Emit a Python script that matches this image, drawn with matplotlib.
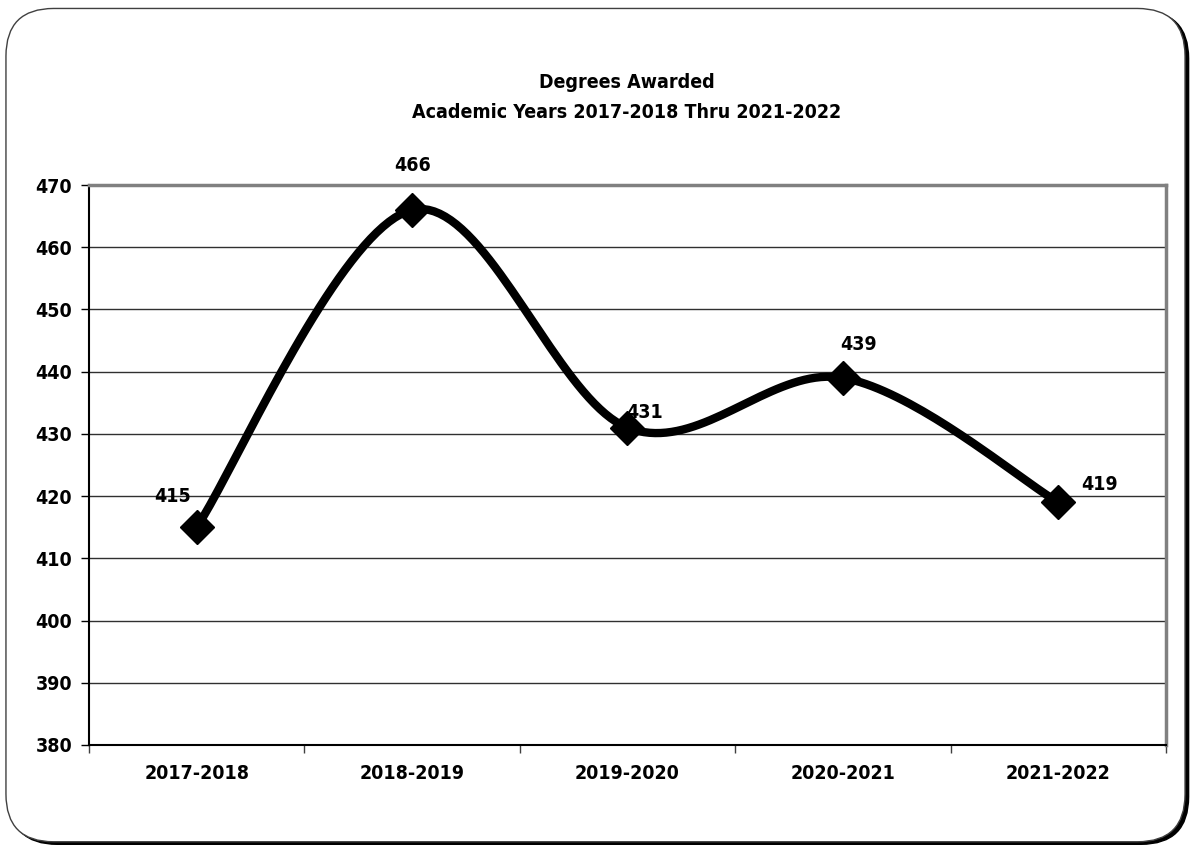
import numpy as np
import matplotlib
matplotlib.use('Agg')
import matplotlib.pyplot as plt
from matplotlib.patches import FancyBboxPatch

plt.rcParams['font.family'] = ['DejaVu Sans']
plt.rcParams['font.stretch'] = 'condensed'

years = ["2017-2018", "2018-2019", "2019-2020", "2020-2021", "2021-2022"]
degrees = [415, 466, 431, 439, 419]
y_ticks = list(range(380, 471, 10))

# label offsets in points (Excel put them a bit all over the place)
label_offsets = [(-17, 22), (0, 32), (12, 11), (11, 24), (30, 13)]


def smooth_curve(xs, ys, steps=40):
    # Catmull-Rom style smoothing like Excel's "smoothed line"
    xs = np.asarray(xs, float)
    ys = np.asarray(ys, float)
    px = np.concatenate([[xs[0]], xs, [xs[-1]]])
    py = np.concatenate([[ys[0]], ys, [ys[-1]]])
    out_x, out_y = [], []
    for i in range(1, len(px) - 2):
        p0 = np.array([px[i], py[i]])
        p3 = np.array([px[i + 1], py[i + 1]])
        c1 = p0 + (np.array([px[i + 1], py[i + 1]]) - np.array([px[i - 1], py[i - 1]])) / 6
        c2 = p3 - (np.array([px[i + 2], py[i + 2]]) - np.array([px[i], py[i]])) / 6
        t = np.linspace(0, 1, steps)[:, None]
        pts = (1 - t) ** 3 * p0 + 3 * (1 - t) ** 2 * t * c1 + 3 * (1 - t) * t ** 2 * c2 + t ** 3 * p3
        out_x.extend(pts[:, 0])
        out_y.extend(pts[:, 1])
    return out_x, out_y


fig = plt.figure(figsize=(11.91, 8.46), dpi=100)

# rounded frame, black corner shadow at the bottom right
shadow = FancyBboxPatch((0.008, 0.002), 0.990, 0.985, boxstyle="round,pad=0,rounding_size=0.04",
                        transform=fig.transFigure, facecolor='black', edgecolor='black', zorder=0,
                        mutation_aspect=1191 / 846)
frame = FancyBboxPatch((0.005, 0.005), 0.990, 0.985, boxstyle="round,pad=0,rounding_size=0.04",
                       transform=fig.transFigure, facecolor='white', edgecolor='#404040', linewidth=1.0,
                       zorder=1, mutation_aspect=1191 / 846)
fig.patches.extend([shadow, frame])

ax = fig.add_axes([0.0747, 0.1194, 0.9043, 0.6619])
ax.set_zorder(2)
ax.patch.set_alpha(0)

x = np.arange(len(years))
sx, sy = smooth_curve(x, degrees)
ax.plot(sx, sy, color='black', linewidth=6, solid_capstyle='round', zorder=3)
ax.plot(x, degrees, linestyle='none', marker='D', markersize=17, color='black', zorder=4)

for xi, val, (dx, dy) in zip(x, degrees, label_offsets):
    ax.annotate(str(val), (xi, val), xytext=(dx, dy), textcoords='offset points',
                ha='center', va='center', fontsize=14, fontweight='bold')

ax.set_xlim(-0.5, len(years) - 0.5)
ax.set_ylim(380, 470)
ax.set_yticks(y_ticks)
ax.set_yticklabels([str(v) for v in y_ticks], fontsize=14, fontweight='bold')
ax.set_xticks(x)
ax.set_xticklabels(years, fontsize=14, fontweight='bold')
ax.tick_params(axis='x', which='major', length=0, pad=14)
ax.set_xticks(np.arange(-0.5, len(years), 1), minor=True)
ax.tick_params(axis='x', which='minor', length=6, width=1, color='#404040')
ax.tick_params(axis='y', length=6, width=1, pad=6)

ax.grid(axis='y', color='#303030', linewidth=1)
ax.set_axisbelow(True)
for side in ['left', 'bottom']:
    ax.spines[side].set_color('black')
    ax.spines[side].set_linewidth(1.5)
for side in ['top', 'right']:
    ax.spines[side].set_color('#808080')
    ax.spines[side].set_linewidth(2.5)

fig.text(0.5265, 0.885, "Degrees Awarded\nAcademic Years 2017-2018 Thru 2021-2022",
         ha='center', va='center', fontsize=14, fontweight='bold', linespacing=1.74)

fig.savefig('out.png', dpi=100)
